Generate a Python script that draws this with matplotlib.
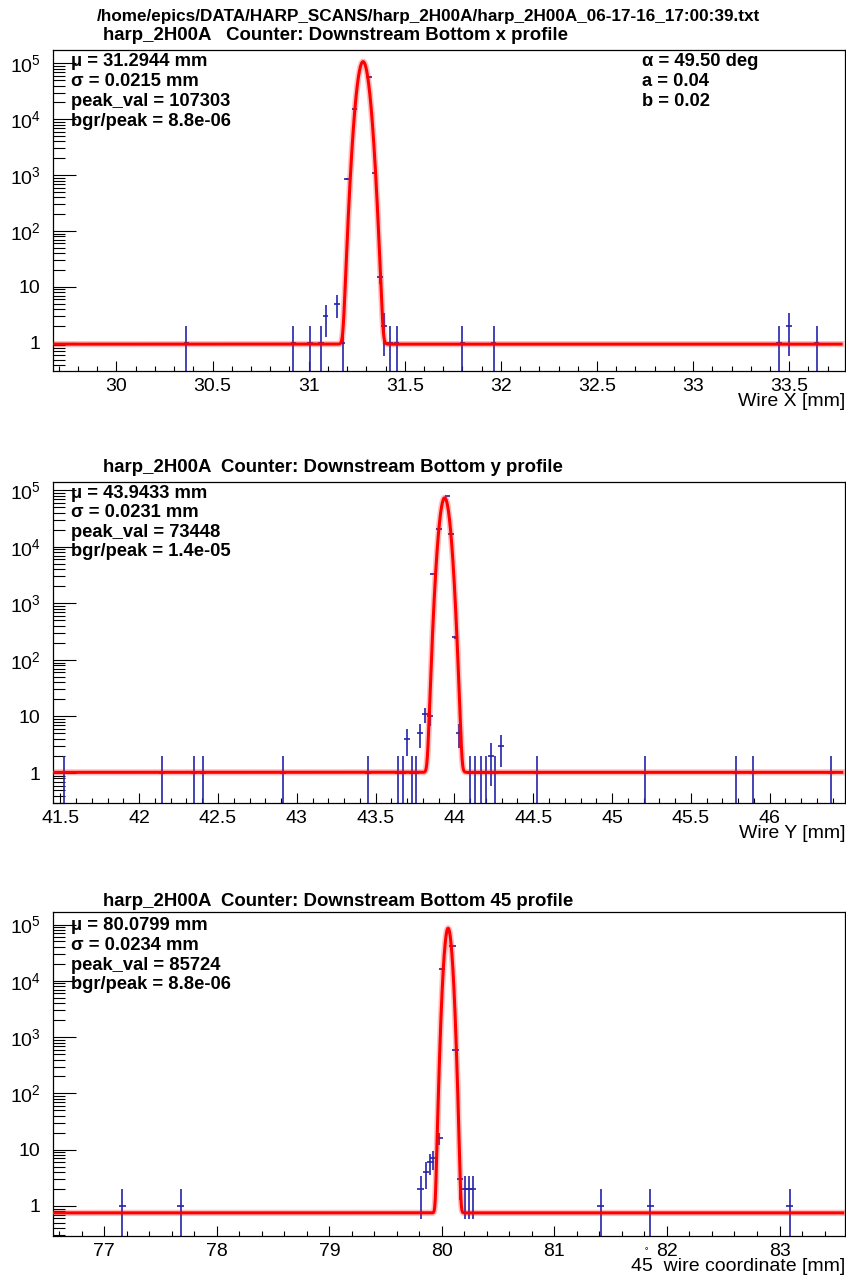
import numpy as np
import matplotlib
matplotlib.use('Agg')
import matplotlib.pyplot as plt
from matplotlib.ticker import FixedLocator, FixedFormatter, MultipleLocator, NullFormatter, FuncFormatter

plt.rcParams['font.family'] = ['Liberation Sans', 'DejaVu Sans']
plt.rcParams['mathtext.default'] = 'regular'

file_title = '/home/epics/DATA/HARP_SCANS/harp_2H00A/harp_2H00A_06-17-16_17:00:39.txt'

# --- x profile ---
x_pos = [30.364, 30.921, 31.006, 31.065, 31.089, 31.147, 31.176, 31.199, 31.237,
         31.314, 31.344, 31.372, 31.392, 31.424, 31.457, 31.800, 31.963,
         33.446, 33.499, 33.643]
x_cnt = [1, 1, 1, 1, 3, 5, 1, 850, 15000,
         56000, 1100, 15, 2, 1, 1, 1, 1,
         1, 2, 1]

# --- y profile ---
y_pos = [41.520, 42.145, 42.345, 42.402, 42.914, 43.450, 43.645, 43.671, 43.699,
         43.730, 43.756, 43.783, 43.815, 43.846, 43.867, 43.904, 43.956, 43.980,
         44.001, 44.028, 44.096, 44.132, 44.168, 44.202, 44.233, 44.259, 44.297,
         44.525, 45.210, 45.787, 45.897, 46.389]
y_cnt = [1, 1, 1, 1, 1, 1, 1, 1, 4,
         1, 1, 5, 11, 10, 3300, 21000, 80000, 16600,
         250, 5, 1, 1, 1, 1, 2, 1, 3,
         1, 1, 1, 1, 1]

# --- 45 profile ---
d_pos = [77.16, 77.68, 79.81, 79.858, 79.896, 79.92, 79.976, 80.00, 80.094,
         80.124, 80.16, 80.205, 80.24, 80.275, 81.41, 81.853, 83.09]
d_cnt = [1, 1, 2, 4, 6, 7, 16, 16000, 42000,
         600, 3, 2, 2, 2, 1, 1, 1]

# fit parameters (text) and curve centre as drawn
fit_mu_text = ['31.2944', '43.9433', '80.0799']
fit_sigma = [0.0215, 0.0231, 0.0234]
fit_peak = [107303, 73448, 85724]
fit_bgr = [8.8e-06, 1.4e-05, 8.8e-06]
curve_mu = [31.283, 43.938, 80.055]

titles = ['harp_2H00A   Counter: Downstream Bottom x profile',
          'harp_2H00A  Counter: Downstream Bottom y profile',
          'harp_2H00A  Counter: Downstream Bottom 45 profile']
xlabels = ['Wire X [mm]', 'Wire Y [mm]', '45  wire coordinate [mm]']
xlims = [(29.67, 33.79), (41.453, 46.478), (76.544, 83.582)]
ylims = [(0.312, 1.77e5), (0.295, 1.4e5), (0.293, 1.67e5)]
xmajor = [0.5, 0.5, 1.0]
xminor = [0.1, 0.1, 0.2]
xerr = [0.014, 0.019, 0.03]

W, H = 846, 1280
fig = plt.figure(figsize=(W / 100, H / 100), dpi=100)

frames = [(49.5, 371), (482, 803), (912, 1236)]
stat_y = [[61.7, 81.5, 101.5, 121.0], [493.3, 512.8, 532.8, 552.0], [925.7, 945.3, 965.0, 984.6]]
title_y = [36, 468, 901]

blue = '#2424aa'


def px(x, y):
    return x / W, 1 - y / H


fig.text(*px(97, 17), file_title, fontsize=12.3, fontweight='bold', ha='left', va='center')

data = [(x_pos, x_cnt), (y_pos, y_cnt), (d_pos, d_cnt)]

for i, (pos, cnt) in enumerate(data):
    top, bot = frames[i]
    ax = fig.add_axes([53 / W, 1 - bot / H, 792 / W, (bot - top) / H])
    pos = np.array(pos, dtype=float)
    cnt = np.array(cnt, dtype=float)
    err = np.sqrt(cnt)
    lo = cnt - np.maximum(cnt - err, 1e-3)
    ax.errorbar(pos, cnt, yerr=[lo, err], xerr=xerr[i], fmt='none',
                ecolor=blue, elinewidth=1.2, capsize=0, zorder=2)

    bg = fit_peak[i] * fit_bgr[i]
    xx = np.linspace(xlims[i][0] + 0.01, xlims[i][1] - 0.02, 4000)
    yy = bg + fit_peak[i] * np.exp(-(xx - curve_mu[i]) ** 2 / (2 * fit_sigma[i] ** 2))
    ax.plot(xx, yy, color='#ff0000', lw=4.5, alpha=0.25, zorder=3)
    ax.plot(xx, yy, color='#ff0000', lw=2.2, zorder=4)

    ax.set_yscale('log')
    ax.set_xlim(*xlims[i])
    ax.set_ylim(*ylims[i])
    ax.yaxis.set_major_locator(FixedLocator([1, 10, 100, 1e3, 1e4, 1e5]))
    ax.yaxis.set_major_formatter(FixedFormatter(['1', '10', '$10^{2}$', '$10^{3}$', '$10^{4}$', '$10^{5}$']))
    minors = [m * 10.0 ** e for e in range(-1, 6) for m in range(2, 10)]
    ax.yaxis.set_minor_locator(FixedLocator(minors))
    ax.yaxis.set_minor_formatter(NullFormatter())
    ax.xaxis.set_major_locator(MultipleLocator(xmajor[i]))
    ax.xaxis.set_minor_locator(MultipleLocator(xminor[i]))
    ax.xaxis.set_major_formatter(FuncFormatter(lambda v, p: '%g' % round(v, 3)))
    ax.tick_params(axis='both', which='both', direction='in', top=False, right=False, width=0.8)
    ax.tick_params(axis='y', which='major', length=16.5, pad=9, labelsize=14)
    ax.tick_params(axis='y', which='minor', length=8.5)
    ax.tick_params(axis='x', which='major', length=7.5, pad=5, labelsize=14)
    ax.tick_params(axis='x', which='minor', length=3.5)
    for sp in ax.spines.values():
        sp.set_linewidth(0.9)

    ax.set_xlabel(xlabels[i], fontsize=14, ha='right', va='top')
    ax.xaxis.set_label_coords(1.0, -22 / (bot - top), transform=ax.transAxes)

    fig.text(*px(103, title_y[i]), titles[i], fontsize=13.4, fontweight='bold', ha='left', va='center')

    lines = ['\u03bc = %s mm' % fit_mu_text[i],
             '\u03c3 = %.4f mm' % fit_sigma[i],
             'peak_val = %d' % fit_peak[i],
             'bgr/peak = %.1e' % fit_bgr[i]]
    for j, s in enumerate(lines):
        fig.text(*px(71, stat_y[i][j]), s, fontsize=13.2, fontweight='bold', ha='left', va='center')

right_lines = ['\u03b1 = 49.50 deg', 'a = 0.04', 'b = 0.02']
for j, s in enumerate(right_lines):
    fig.text(*px(642, stat_y[0][j]), s, fontsize=13.2, fontweight='bold', ha='left', va='center')

fig.text(*px(646, 1249), '\u2218', fontsize=6, ha='center', va='center', family=['DejaVu Sans'])

fig.savefig('out.png', dpi=100)
